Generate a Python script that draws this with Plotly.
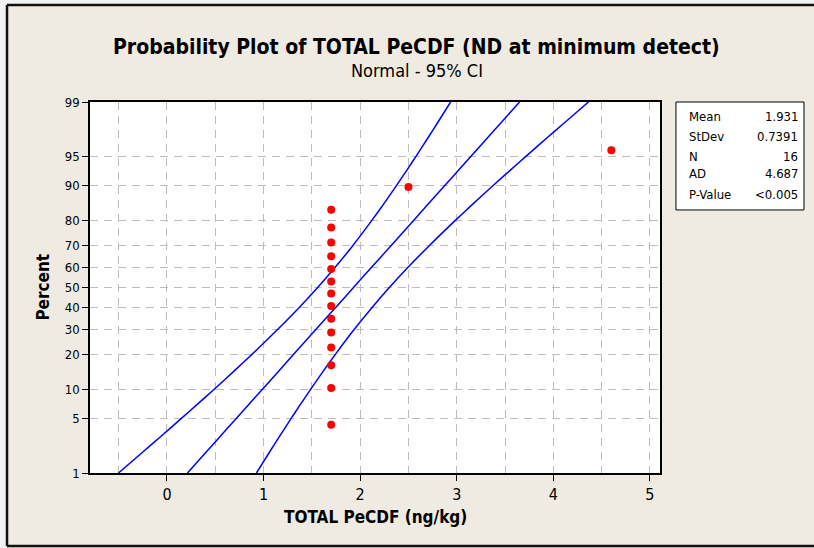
import plotly.graph_objects as go
from statistics import NormalDist

# ---- data ----
sample_values = [1.7] * 14 + [2.5, 4.6]
sample_percents = [4.27, 10.37, 16.46, 22.56, 28.66, 34.76, 40.85, 46.95,
                   53.05, 59.15, 65.24, 71.34, 77.44, 83.54, 89.63, 95.73]

band_percents = [1, 2, 3, 5, 7, 10, 15, 20, 30, 40, 50, 60, 70, 80, 85, 90, 93, 95, 97, 98, 99]
fit_x = [0.212, 0.413, 0.541, 0.715, 0.840, 0.984, 1.165, 1.309, 1.543, 1.744, 1.931,
         2.118, 2.319, 2.553, 2.697, 2.878, 3.022, 3.147, 3.321, 3.449, 3.650]
lower_x = [-0.502, -0.241, -0.076, 0.146, 0.304, 0.483, 0.705, 0.877, 1.147, 1.367, 1.560,
           1.741, 1.923, 2.121, 2.237, 2.377, 2.486, 2.578, 2.704, 2.795, 2.936]
upper_x = [0.926, 1.067, 1.158, 1.284, 1.376, 1.485, 1.625, 1.741, 1.939, 2.121, 2.302,
           2.495, 2.715, 2.985, 3.157, 3.379, 3.558, 3.716, 3.938, 4.103, 4.364]

y_tick_percents = [1, 5, 10, 20, 30, 40, 50, 60, 70, 80, 90, 95, 99]
x_tick_values = [0, 1, 2, 3, 4, 5]

stat_labels = ["Mean", "StDev", "N", "AD", "P-Value"]
stat_values = ["1.931", "0.7391", "16", "4.687", "<0.005"]

# ---- probability-scale transform ----
nd = NormalDist()
def z(p):
    return nd.inv_cdf(p / 100.0)

FONT = "DejaVu Sans Condensed, DejaVu Sans, sans-serif"
BLUE = "#0000FF"
GRID = "#BDBDBD"
DASH = "8px,6px"

fig = go.Figure()
for xs in (lower_x, fit_x, upper_x):
    fig.add_trace(go.Scatter(x=xs, y=[z(p) for p in band_percents], mode="lines",
                             line=dict(color=BLUE, width=1.5, shape="spline", smoothing=0.6),
                             hoverinfo="skip", showlegend=False))
fig.add_trace(go.Scatter(x=sample_values, y=[z(p) for p in sample_percents],
                         mode="markers", marker=dict(color="#FF0000", size=8),
                         showlegend=False))

zmax = z(99)
fig.update_layout(
    width=814, height=548,
    margin=dict(l=90, r=154, t=102, b=75),
    paper_bgcolor="#EFEBE2",
    plot_bgcolor="white",
    font=dict(family=FONT, color="black"),
    xaxis=dict(range=[-0.797, 5.104], tickvals=x_tick_values,
               ticks="outside", ticklen=6, tickcolor="black",
               tickfont=dict(size=16, family=FONT),
               showline=True, linecolor="black", linewidth=1.5, mirror=True,
               showgrid=True, gridcolor=GRID, griddash=DASH, gridwidth=1,
               zeroline=False,
               minor=dict(dtick=0.5, tick0=0, showgrid=True, gridcolor=GRID,
                          griddash=DASH, ticks="")),
    yaxis=dict(range=[-zmax, zmax], tickvals=[z(p) for p in y_tick_percents],
               ticktext=[str(p) for p in y_tick_percents],
               ticks="outside", ticklen=6, tickcolor="black",
               tickfont=dict(size=13, family=FONT),
               showline=True, linecolor="black", linewidth=1.5, mirror=True,
               showgrid=True, gridcolor=GRID, griddash=DASH, gridwidth=1,
               zeroline=False),
)

# light outer strip (left / top) and dark frame lines
X0, X1, Y0, Y1 = -0.1456, 1.40, -0.1968, 1.2615
fig.add_shape(type="rect", xref="paper", yref="paper", x0=-0.2, x1=X0, y0=-0.3, y1=1.4,
              fillcolor="#F3F3F3", line=dict(width=0), layer="below")
fig.add_shape(type="rect", xref="paper", yref="paper", x0=-0.2, x1=1.5, y0=Y1, y1=1.4,
              fillcolor="#F3F3F3", line=dict(width=0), layer="below")
for (a, b, c, d) in [(X0, Y0, X0, Y1), (X0, Y1, X1, Y1), (X0, Y0, X1, Y0)]:
    fig.add_shape(type="line", xref="paper", yref="paper", x0=a, y0=b, x1=c, y1=d,
                  line=dict(color="#111111", width=2.5), layer="below")
# stats box
fig.add_shape(type="rect", xref="paper", yref="paper",
              x0=1.028, x1=1.2526, y0=0.709, y1=1.0,
              fillcolor="white", line=dict(color="black", width=1))

row_y = [0.962, 0.906, 0.854, 0.806, 0.752]
for lab, val, yy in zip(stat_labels, stat_values, row_y):
    fig.add_annotation(x=1.047, y=yy, xref="paper", yref="paper", text=lab,
                       showarrow=False, xanchor="left", yanchor="middle",
                       font=dict(size=13, family=FONT))
    fig.add_annotation(x=1.2456, y=yy, xref="paper", yref="paper", text=val,
                       showarrow=False, xanchor="right", yanchor="middle",
                       font=dict(size=13, family=FONT))

fig.add_annotation(x=0.573, y=1.148, xref="paper", yref="paper",
                   text="<b>Probability Plot of TOTAL PeCDF (ND at minimum detect)</b>",
                   showarrow=False, xanchor="center", yanchor="middle",
                   font=dict(size=21, family=FONT))
fig.add_annotation(x=0.573, y=1.086, xref="paper", yref="paper",
                   text="Normal - 95% CI", showarrow=False,
                   xanchor="center", yanchor="middle", font=dict(size=18, family=FONT))
fig.add_annotation(x=-0.084, y=0.5, xref="paper", yref="paper",
                   text="<b>Percent</b>", textangle=-90, showarrow=False,
                   xanchor="center", yanchor="middle", font=dict(size=17, family=FONT))
fig.add_annotation(x=0.5, y=-0.1186, xref="paper", yref="paper",
                   text="<b>TOTAL PeCDF (ng/kg)</b>", showarrow=False,
                   xanchor="center", yanchor="middle", font=dict(size=17, family=FONT))

fig.write_html("out.html", config={"displayModeBar": False},
               post_script=("document.body.style.margin='0';document.body.style.padding='0';"
                            "document.body.style.overflow='hidden';"
                            "document.documentElement.style.overflow='hidden';"))
